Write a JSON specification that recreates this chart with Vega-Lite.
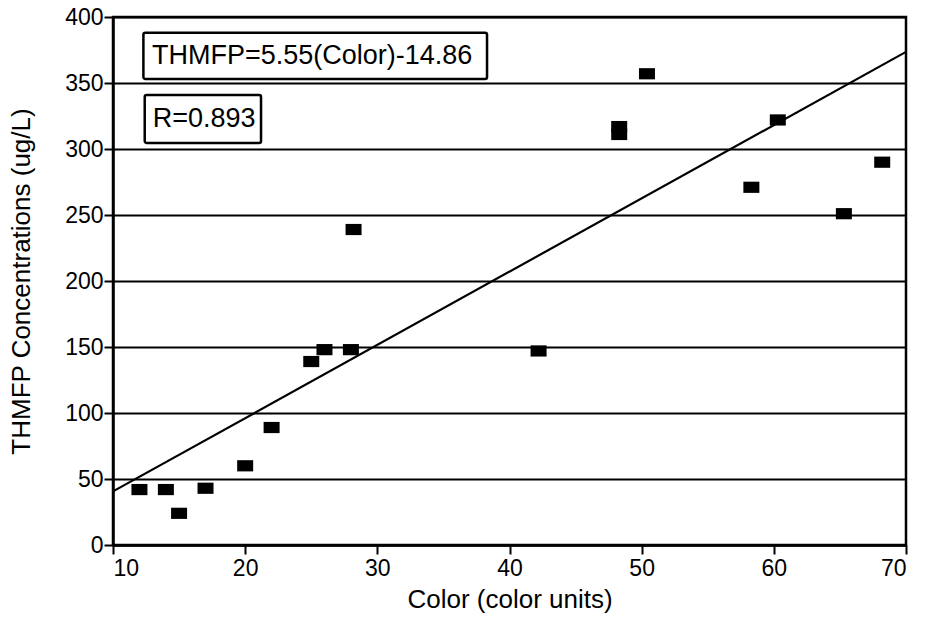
{
  "$schema": "https://vega.github.io/schema/vega-lite/v6.json",
  "width": 793,
  "height": 528,
  "autosize": "none",
  "padding": {"left": 113, "top": 17, "right": 21, "bottom": 76},
  "background": "white",
  "config": {
    "font": "Liberation Sans",
    "view": {"stroke": "black", "strokeWidth": 2.5},
    "axis": {
      "domainColor": "black", "domainWidth": 2.5,
      "tickColor": "black", "tickWidth": 2, "tickSize": 9,
      "labelColor": "black", "labelFont": "Liberation Sans", "labelFontSize": 23,
      "titleColor": "black", "titleFont": "Liberation Sans", "titleFontSize": 26, "titleFontWeight": "normal",
      "gridColor": "black", "gridWidth": 2.2, "gridOpacity": 1
    }
  },
  "datasets": {
    "points": [
      {"color": 12, "thmfp": 42},
      {"color": 14, "thmfp": 42},
      {"color": 15, "thmfp": 24},
      {"color": 17, "thmfp": 43},
      {"color": 20, "thmfp": 60},
      {"color": 22, "thmfp": 89},
      {"color": 25, "thmfp": 139},
      {"color": 26, "thmfp": 148},
      {"color": 28, "thmfp": 148},
      {"color": 28.2, "thmfp": 239},
      {"color": 42.2, "thmfp": 147},
      {"color": 48.3, "thmfp": 311},
      {"color": 48.3, "thmfp": 317},
      {"color": 50.4, "thmfp": 357},
      {"color": 58.3, "thmfp": 271},
      {"color": 60.3, "thmfp": 322},
      {"color": 65.3, "thmfp": 251},
      {"color": 68.2, "thmfp": 290}
    ],
    "fit": [
      {"color": 10, "thmfp": 40.6},
      {"color": 70, "thmfp": 373.6}
    ],
    "boxes": [
      {"x1": 12.3, "x2": 38.3, "y1": 353, "y2": 388},
      {"x1": 12.4, "x2": 21.2, "y1": 304.5, "y2": 341}
    ],
    "labels": [
      {"x": 12.95, "y": 370.5, "label": "THMFP=5.55(Color)-14.86"},
      {"x": 13.0, "y": 322.5, "label": "R=0.893"}
    ]
  },
  "layer": [
    {
      "data": {"name": "points"},
      "mark": {"type": "point", "shape": "M-1,-0.7H1V0.7H-1Z", "filled": true, "color": "black", "opacity": 1, "size": 256},
      "encoding": {
        "x": {"field": "color", "type": "quantitative", "scale": {"domain": [10, 70], "nice": false},
          "axis": {"values": [10, 20, 30, 40, 50, 60, 70], "grid": false, "title": "Color (color units)", "titlePadding": 6, "labelPadding": 3}},
        "y": {"field": "thmfp", "type": "quantitative", "scale": {"domain": [0, 400], "nice": false},
          "axis": {"values": [0, 50, 100, 150, 200, 250, 300, 350, 400], "grid": true, "title": "THMFP Concentrations (ug/L)", "titlePadding": 30, "labelPadding": 1}}
      }
    },
    {
      "data": {"name": "fit"},
      "mark": {"type": "line", "color": "black", "strokeWidth": 2.2},
      "encoding": {
        "x": {"field": "color", "type": "quantitative"},
        "y": {"field": "thmfp", "type": "quantitative"}
      }
    },
    {
      "data": {"name": "boxes"},
      "mark": {"type": "rect", "fill": "white", "stroke": "black", "strokeWidth": 2.5, "cornerRadius": 2},
      "encoding": {
        "x": {"field": "x1", "type": "quantitative"},
        "x2": {"field": "x2"},
        "y": {"field": "y1", "type": "quantitative"},
        "y2": {"field": "y2"}
      }
    },
    {
      "data": {"name": "labels"},
      "mark": {"type": "text", "align": "left", "baseline": "middle", "fontSize": 27, "font": "Liberation Sans", "color": "black"},
      "encoding": {
        "x": {"field": "x", "type": "quantitative"},
        "y": {"field": "y", "type": "quantitative"},
        "text": {"field": "label"}
      }
    }
  ]
}
